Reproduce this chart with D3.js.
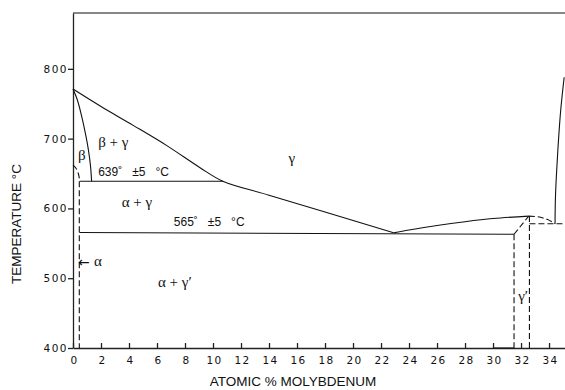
<html>
<head>
<meta charset="utf-8">
<title>U-Mo phase diagram</title>
<style>
  body { margin: 0; background: #fff; }
  svg text { fill: #111; }
  .tick text { font-family: "DejaVu Sans", sans-serif; font-size: 10.5px; letter-spacing: 1.5px; }
  .domain, .tick line { stroke: #222; stroke-width: 1.3; }
  .bound { fill: none; stroke: #111; stroke-width: 1.1; }
  .dash { fill: none; stroke: #111; stroke-width: 1.1; stroke-dasharray: 6 3; }
  .lbl { font-family: "Liberation Serif", serif; font-size: 15px; }
  .iso { font-family: "Liberation Sans", Arial, sans-serif; font-size: 12px; white-space: pre; }
  .axlbl { font-family: "Liberation Sans", Arial, sans-serif; font-size: 13.5px; }
</style>
</head>
<body>
<div id="chart"></div>
<script src="https://cdnjs.cloudflare.com/ajax/libs/d3/7.8.5/d3.min.js"></script>
<script>
// tick values
var xTicks = [0, 2, 4, 6, 8, 10, 12, 14, 16, 18, 20, 22, 24, 26, 28, 30, 32, 34];
var yTicks = [400, 500, 600, 700, 800];

// phase boundaries [at.% Mo, temperature °C]
var gammaLine = [[0, 771], [2, 746], [4.3, 719], [6.7, 690], [9.1, 658], [10.7, 639], [14, 619], [18, 595], [22.9, 565]];
var betaLine = [[0, 771], [0.3, 756], [0.62, 732], [0.9, 706], [1.1, 684], [1.25, 661], [1.33, 639]];
var betaDash = [[0, 662], [0.2, 658], [0.38, 650], [0.48, 640]];
var gammaRight = [[22.9, 565], [24, 569], [26, 575.5], [28, 581], [30, 585.5], [32.55, 589]];
var gammaRightTop = [[34.43, 578], [34.45, 610], [34.52, 645], [34.65, 690], [34.83, 740], [35.08, 788]];
var gpDash = [[32.55, 589], [33.2, 588], [33.9, 584], [34.43, 578]];
var iso639 = [[0.48, 639], [10.7, 639]];
var iso565 = [[0.45, 565.5], [31.5, 563]];
var alphaDash = [[0.45, 639], [0.45, 400]];
var gp1Dash = [[31.5, 563], [31.5, 400]];
var gp2Dash = [[32.6, 589], [32.6, 400]];
var gpSlope = [[31.5, 563], [32.55, 589]];
var hDash578 = [[32.6, 578], [35.14, 578]];

var labels = [
  {text: "\u03b2 + \u03b3", x: 1.8, t: 688, cls: "lbl"},
  {text: "\u03b2", x: 0.35, t: 670, cls: "lbl"},
  {text: "\u03b3", x: 15.4, t: 665, cls: "lbl"},
  {text: "639\u02da   \u00b15   \u00b0C", x: 1.8, t: 647, cls: "iso"},
  {text: "\u03b1 + \u03b3", x: 3.48, t: 602, cls: "lbl"},
  {text: "565\u02da   \u00b15   \u00b0C", x: 7.2, t: 575, cls: "iso"},
  {text: "\u03b1", x: 1.5, t: 517, cls: "lbl"},
  {text: "\u03b1 + \u03b3\u2032", x: 6.07, t: 487, cls: "lbl"},
  {text: "\u03b3\u2032", x: 31.8, t: 467, cls: "lbl"}
];

var W = 565, H = 390;
var svg = d3.select("#chart").append("svg").attr("width", W).attr("height", H);

var x = d3.scaleLinear().domain([0, 35.14]).range([73, 565]);
var y = d3.scaleLinear().domain([400, 880]).range([348, 13]);

var line = d3.line()
    .x(function (d) { return x(d[0]); })
    .y(function (d) { return y(d[1]); });
var smooth = d3.line()
    .x(function (d) { return x(d[0]); })
    .y(function (d) { return y(d[1]); })
    .curve(d3.curveCatmullRom);

// axes
svg.append("g")
    .attr("transform", "translate(0," + y(400) + ")")
    .call(d3.axisBottom(x).tickValues(xTicks).tickSize(-5).tickSizeOuter(0).tickPadding(9))
    .call(function (g) { g.selectAll(".tick text").attr("dx", "0.1em"); });

svg.append("g")
    .attr("transform", "translate(" + x(0) + ",0)")
    .call(d3.axisLeft(y).tickValues(yTicks).tickSize(5).tickSizeOuter(0).tickPadding(0));

// top frame
svg.append("path").attr("class", "bound").attr("stroke", "#444").attr("stroke-width", 1.3)
    .attr("d", line([[0, 880], [35.14, 880]]));

// thick bit on bottom axis
svg.append("path").attr("class", "bound").attr("stroke-width", 2.2)
    .attr("d", line([[30, 400], [31.5, 400]]));

// solid boundaries
[gammaLine, betaLine, gammaRight, gammaRightTop].forEach(function (d) {
  svg.append("path").attr("class", "bound").attr("d", smooth(d));
});
[iso639, iso565].forEach(function (d) {
  svg.append("path").attr("class", "bound").attr("d", line(d));
});

// dashed boundaries
svg.append("path").attr("class", "dash").attr("stroke-dasharray", "4 3").attr("d", smooth(betaDash));
svg.append("path").attr("class", "dash").attr("d", smooth(gpDash));
[alphaDash, gp1Dash, gp2Dash, gpSlope, hDash578].forEach(function (d) {
  svg.append("path").attr("class", "dash").attr("d", line(d));
});

// region labels
svg.selectAll(".region").data(labels).enter().append("text")
    .attr("class", function (d) { return d.cls; })
    .attr("x", function (d) { return x(d.x); })
    .attr("y", function (d) { return y(d.t); })
    .text(function (d) { return d.text; });

// arrow pointing at the alpha solvus
svg.append("text")
    .attr("x", x(0.35)).attr("y", y(516))
    .style("font-family", "DejaVu Sans, sans-serif").style("font-size", "14px")
    .text("\u2190");

// axis titles
svg.append("text").attr("class", "axlbl")
    .attr("x", 293).attr("y", 386)
    .attr("text-anchor", "middle")
    .text("ATOMIC % MOLYBDENUM");

svg.append("text").attr("class", "axlbl")
    .attr("transform", "translate(21,224) rotate(-90)")
    .attr("text-anchor", "middle")
    .text("TEMPERATURE \u00b0C");
</script>
</body>
</html>
